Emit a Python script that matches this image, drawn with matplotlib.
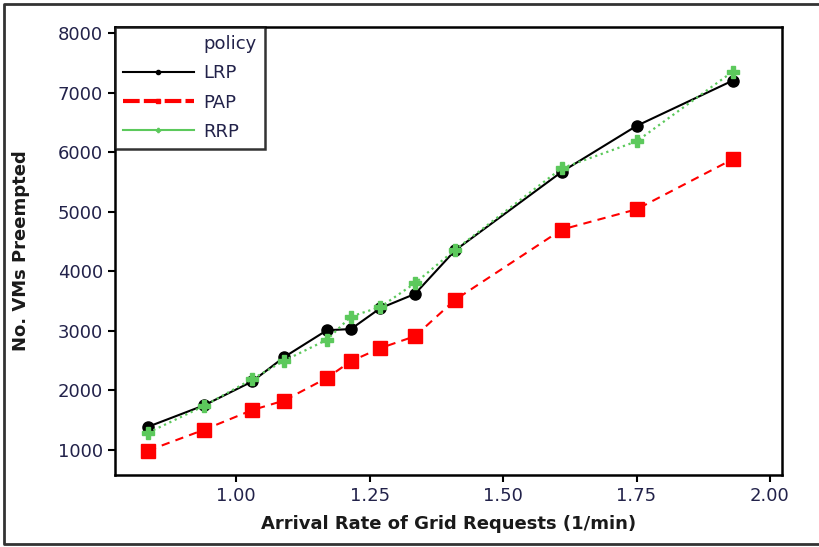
import matplotlib.pyplot as plt
from matplotlib.lines import Line2D

# Arrival rate of grid requests (1/min)
rates = [0.835, 0.94, 1.03, 1.09, 1.17, 1.215, 1.27, 1.335, 1.41, 1.61, 1.75, 1.93]

# Number of VMs preempted per policy
lrp = [1390, 1750, 2150, 2560, 3010, 3030, 3380, 3620, 4350, 5670, 6440, 7200]
pap = [990, 1340, 1670, 1830, 2210, 2490, 2710, 2910, 3520, 4700, 5040, 5880]
rrp = [1290, 1740, 2190, 2500, 2850, 3240, 3400, 3800, 4360, 5730, 6180, 7350]

policies = ["LRP", "PAP", "RRP"]
green = "#5cc95c"
text_col = "#22224a"

fig = plt.figure(figsize=(8.19, 5.47), dpi=100)
ax = fig.add_axes([0.1404, 0.1316, 0.8144, 0.819])

ax.plot(rates, lrp, color="black", lw=1.5, ls="-", marker="o", ms=8)
ax.plot(rates, pap, color="red", lw=1.5, ls=(0, (4, 3)), marker="s", ms=10)
ax.plot(rates, rrp, color=green, lw=1.6, ls=":", marker="P", ms=9)

ax.set_xlim(0.773, 2.0225)
ax.set_ylim(580, 8100)
ax.set_xticks([1.0, 1.25, 1.5, 1.75, 2.0])
ax.set_xticklabels(["1.00", "1.25", "1.50", "1.75", "2.00"])
ax.set_yticks(range(1000, 8001, 1000))

for s in ax.spines.values():
    s.set_linewidth(1.8)
ax.tick_params(direction="out", length=5, width=1.5, labelsize=13, labelcolor=text_col)

ax.set_xlabel("Arrival Rate of Grid Requests (1/min)", fontsize=13, fontweight="bold",
              color="#1a1a1a", labelpad=7)
ax.set_ylabel("No. VMs Preempted", fontsize=13, fontweight="bold", color="#1a1a1a", labelpad=20)

# legend with the "policy" header placed as a blank first entry
handles = [
    Line2D([], [], color="none"),
    Line2D([], [], color="black", lw=1.5, marker="o", ms=3),
    Line2D([], [], color="red", lw=3, ls=(0, (4, 1)), marker="s", ms=3),
    Line2D([], [], color=green, lw=1.5, marker="P", ms=3),
]
leg = ax.legend(handles, ["policy"] + policies, loc="upper left", bbox_to_anchor=(0, 1),
                borderaxespad=0, fontsize=13, frameon=True, fancybox=False,
                handlelength=3.9, handletextpad=0.55, labelspacing=0.62, borderpad=0.45,
                labelcolor=text_col)
leg.get_frame().set_edgecolor("black")
leg.get_frame().set_linewidth(1.8)

# outer frame on top, left and bottom only (the right edge is cut off)
x0, y0, y1 = 4 / 819, 3 / 547, 543 / 547
frame = Line2D([1.0, x0, x0, 1.0], [y1, y1, y0, y0], transform=fig.transFigure,
               color="#333333", lw=2)
fig.add_artist(frame)

fig.savefig("out.png", dpi=100)
